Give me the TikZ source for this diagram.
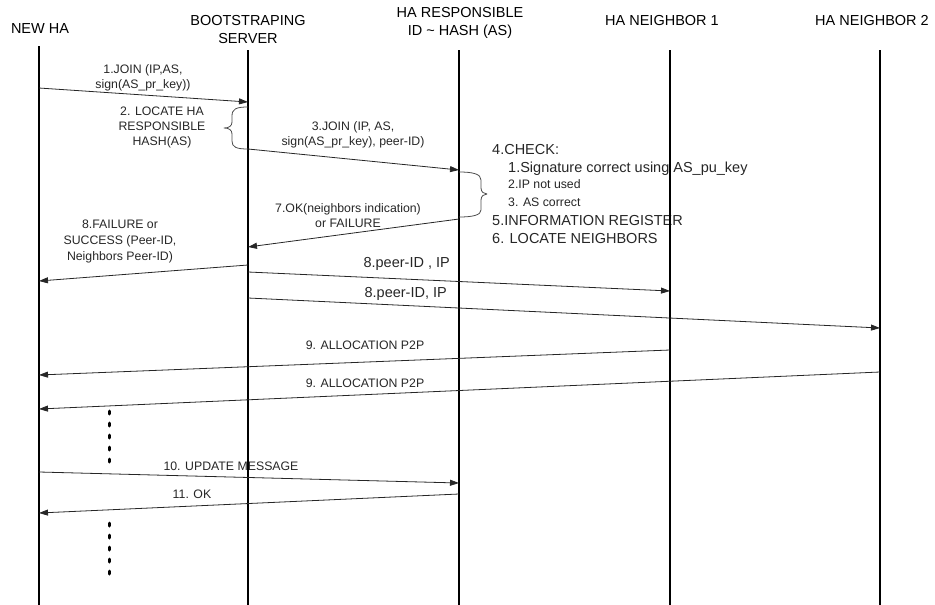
\documentclass[tikz,border=0pt]{standalone}
\usepackage{fontspec}
\setmainfont{Liberation Sans}
\usetikzlibrary{arrows.meta}
\tikzset{
  every picture/.style={line join=round, >={Triangle[length=9pt,width=6pt]}},
  life/.style={line width=2.4pt},
  msg/.style={->, line width=0.8pt, draw=black!85},
  bracket/.style={line width=0.8pt, draw=black!70},
  lbl/.style={font=\fontsize{12.3}{15}\selectfont, align=center, inner sep=0pt, text=black!85},
  head/.style={font=\fontsize{14.5}{18}\selectfont, align=center, inner sep=0pt},
  big/.style={font=\fontsize{14.5}{18}\selectfont, inner sep=0pt, text=black!85},
  dots/.style={line width=3pt, line cap=round, dash pattern=on 3pt off 9pt},
}
\begin{document}
\begin{tikzpicture}[x=1pt,y=-1pt]
\useasboundingbox (0,0) rectangle (935,605);
% heads
\node[head] (nha) at (40,29) {NEW HA};
\node[head] (bs) at (248,30) {BOOTSTRAPING\\SERVER};
\node[head] (hr) at (460,23) {HA RESPONSIBLE\\ID \textasciitilde{} HASH (AS)};
\node[head] (nb1) at (662,21) {HA NEIGHBOR 1};
\node[head] (nb2) at (872,21) {HA NEIGHBOR 2};
% labels
\node[lbl] (l1) at (143,77.5) {1.JOIN (IP,AS,\\sign(AS\_pr\_key))};
\node[lbl] (l2) at (162,127.5) {2. LOCATE HA\\RESPONSIBLE\\HASH(AS)};
\node[lbl] (l3) at (353,134.5) {3.JOIN (IP, AS,\\sign(AS\_pr\_key), peer-ID)};
\node[lbl] (l7) at (348,215.5) {7.OK(neighbors indication)\\or FAILURE};
\node[lbl, font=\fontsize{12.3}{16}\selectfont] (l8) at (120,241) {8.FAILURE or\\SUCCESS (Peer-ID,\\Neighbors Peer-ID)};
\node[big, anchor=east] (lp1) at (450,264) {8.peer-ID , IP};
\node[big, anchor=east] (lp2) at (447,294) {8.peer-ID, IP};
\node[lbl] (la1) at (365,345) {9. ALLOCATION P2P};
\node[lbl] (la2) at (365,383) {9. ALLOCATION P2P};
\node[lbl] (lu) at (231,466) {10. UPDATE MESSAGE};
\node[lbl] (lk) at (192,494) {11. OK};
% check block
\node[big, anchor=base west] (chk) at (492,154) {4.CHECK:};
\node[big, anchor=base west] (chk1) at (508,172) {1.Signature correct using AS\_pu\_key};
\node[lbl, anchor=base west] (chk2) at (508,188.5) {2.IP not used};
\node[lbl, anchor=base west] (chk3) at (508,206.5) {3. AS correct};
\node[big, anchor=base west] (reg) at (492,225) {5.INFORMATION REGISTER};
\node[big, anchor=base west] (loc) at (492,243) {6. LOCATE NEIGHBORS};
% lifelines
\foreach \n/\x/\t in {nha/39/46, bs/248/50, hr/459/50, nb1/670/50, nb2/880/50}{
  \coordinate (\n T) at (\x,\t);
  \coordinate (\n B) at (\x,605);
  \draw[life] (\n T) -- (\n B);
}
% messages
\foreach \m/\xa/\ya/\xb/\yb in {m1/39/88/248/102, m3/248/149/459/170, m7/459/219/248/247,
    m8/248/265/39/281, p1/248/272/670/291, p2/248/298/880/328, a1/670/350/39/375,
    a2/880/372/39/409, u10/39/472/459/483, k11/459/494/39/513}{
  \coordinate (\m a) at (\xa,\ya);
  \coordinate (\m b) at (\xb,\yb);
  \draw[msg] (\m a) -- (\m b);
}
% braces
\draw[bracket] (248,107) .. controls (236,107) and (232,109) .. (232,116) -- (232,122)
  .. controls (232,126) and (229,128) .. (224,128) .. controls (229,128) and (232,130) .. (232,134)
  -- (232,141) .. controls (232,147) and (236,149) .. (248,149);
\draw[bracket] (459,172) .. controls (473,172) and (481,174) .. (481,180) -- (481,188)
  .. controls (481,192) and (484,194) .. (487,194) .. controls (484,194) and (481,196) .. (481,200)
  -- (481,210) .. controls (481,215) and (473,217) .. (459,217);
% dots
\draw[dots] (109,411) -- (109,465);
\draw[dots] (109,523) -- (109,577);
\end{tikzpicture}
\end{document}
